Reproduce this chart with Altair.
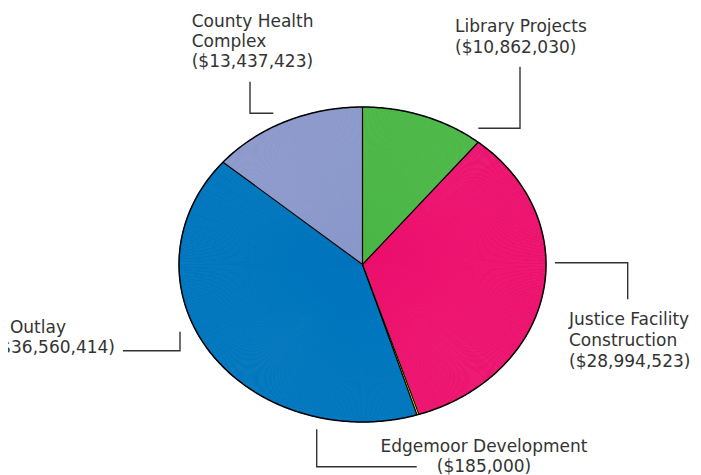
import math
import altair as alt
import pandas as pd

# ---- data ----
categories = ["Library Projects", "Justice Facility Construction", "Edgemoor Development",
              "Capital Outlay", "County Health Complex"]
amounts = [10862030, 28994523, 185000, 36560414, 13437423]
colors = ["#4cb848", "#ec136e", "#fff200", "#0076be", "#8c99cc"]

label_text = ["County Health", "Complex", "($13,437,423)",
              "Library Projects", "($10,862,030)",
              "Justice Facility", "Construction", " ($28,994,523)",
              "Capital Outlay", "($36,560,414)",
              "Edgemoor Development", "($185,000)"]
label_x = [183.7, 183.7, 183.7, 447, 447, 561, 561, 561, 58, 107, 476, 476]
label_y = [18.7, 38.7, 58.7, 24.3, 45.3, 317, 338, 358.7, 325, 345, 443.7, 463.7]
label_align = ["left"] * 8 + ["right", "right", "center", "center"]

leader_group = ["c"] * 3 + ["l"] * 3 + ["j"] * 3 + ["o"] * 3 + ["e"] * 3
leader_x = [242, 242, 265.3, 512, 512, 470.3, 547, 619.7, 619.7, 115, 172, 172, 308.7, 308.7, 408.7]
leader_y = [73.7, 105.3, 105.3, 58.7, 120.3, 120.3, 254.7, 254.7, 291.3, 342.7, 342.7, 323.7, 421.3, 458.7, 458.7]

# ---- layout ----
W, H = 685, 467
CX, CY, RX, RY = 354.5, 256.5, 183.5, 157.5
FONT = "DejaVu Sans"
INK = "#333333"

xs = alt.Scale(domain=[0, W], range=[0, W], nice=False, zero=False)
ys = alt.Scale(domain=[0, H], range=[0, H], nice=False, zero=False)
R_EXPR = f"1/sqrt(pow(sin(datum.ang)/{RX},2)+pow(cos(datum.ang)/{RY},2))"

total = sum(amounts)
rows = []
k = 0
for cat, amt in zip(categories, amounts):
    n = max(2, round(amt / total * 720))
    for _ in range(n):
        rows.append({"cat": cat, "part": amt / n, "idx": k})
        k += 1
sub = pd.DataFrame(rows)

cscale = alt.Scale(domain=categories, range=colors)
tscale = alt.Scale(domain=[0, total], range=[0, 2 * math.pi], zero=False, nice=False)

wedges = alt.Chart(sub).transform_window(
    cum="sum(part)", sort=[alt.SortField("idx")], frame=[None, 0]
).transform_calculate(
    start="datum.cum - datum.part"
).transform_joinaggregate(total="sum(part)").transform_calculate(
    ang="2*PI*(datum.cum - datum.part/2)/datum.total"
).transform_calculate(r=R_EXPR).mark_arc(strokeWidth=0.8).encode(
    theta=alt.Theta("start:Q", scale=tscale),
    theta2="cum:Q",
    radius=alt.Radius("r:Q", scale=None),
    color=alt.Color("cat:N", scale=cscale, legend=None),
    stroke=alt.Stroke("cat:N", scale=cscale, legend=None),
    x=alt.value(CX),
    y=alt.value(CY),
)

base = pd.DataFrame({"cat": categories, "amount": amounts, "o": list(range(len(categories)))})
separators = alt.Chart(base).transform_window(
    cum="sum(amount)", sort=[alt.SortField("o")], frame=[None, 0]
).transform_joinaggregate(total="sum(amount)").transform_calculate(
    ang="2*PI*datum.cum/datum.total"
).transform_calculate(r=R_EXPR).transform_calculate(
    x0=str(CX)
).transform_calculate(
    y0=str(CY)
).transform_calculate(
    xe=f"{CX} + datum.r*sin(datum.ang)"
).transform_calculate(
    ye=f"{CY} - datum.r*cos(datum.ang)"
).mark_rule(color="black", strokeWidth=1.2).encode(
    x=alt.X("x0:Q", scale=xs, axis=None),
    y=alt.Y("y0:Q", scale=ys, axis=None),
    x2="xe:Q",
    y2="ye:Q",
)

outline = alt.Chart(alt.sequence(0, 361, 1, as_="d")).transform_calculate(
    ang="datum.d*PI/180"
).transform_calculate(r=R_EXPR).transform_calculate(
    px=f"{CX} + datum.r*sin(datum.ang)"
).transform_calculate(
    py=f"{CY} - datum.r*cos(datum.ang)"
).mark_line(color="black", strokeWidth=1.5).encode(
    x=alt.X("px:Q", scale=xs, axis=None),
    y=alt.Y("py:Q", scale=ys, axis=None),
    order=alt.Order("d:Q"),
)

leaders_df = pd.DataFrame({"g": leader_group, "x": leader_x, "y": leader_y,
                           "i": list(range(len(leader_x)))})
leaders = alt.Chart(leaders_df).mark_line(
    color=INK, strokeWidth=1.4, strokeCap="butt", strokeJoin="miter"
).encode(
    x=alt.X("x:Q", scale=xs, axis=None),
    y=alt.Y("y:Q", scale=ys, axis=None),
    detail="g:N",
    order=alt.Order("i:Q"),
)

labels_df = pd.DataFrame({"t": label_text, "x": label_x, "y": label_y, "a": label_align})
text_layers = []
for a in ["left", "right", "center"]:
    text_layers.append(
        alt.Chart(labels_df).transform_filter(f"datum.a == '{a}'").mark_text(
            align=a, baseline="alphabetic", font=FONT, fontSize=17, color=INK
        ).encode(
            x=alt.X("x:Q", scale=xs, axis=None),
            y=alt.Y("y:Q", scale=ys, axis=None),
            text="t:N",
        )
    )

chart = alt.layer(wedges, outline, separators, leaders, *text_layers).properties(
    width=W, height=H, autosize=alt.AutoSizeParams(type="none"), padding=0
).configure_view(stroke=None)

chart.save("out.html", embed_options={"renderer": "svg", "actions": False})
